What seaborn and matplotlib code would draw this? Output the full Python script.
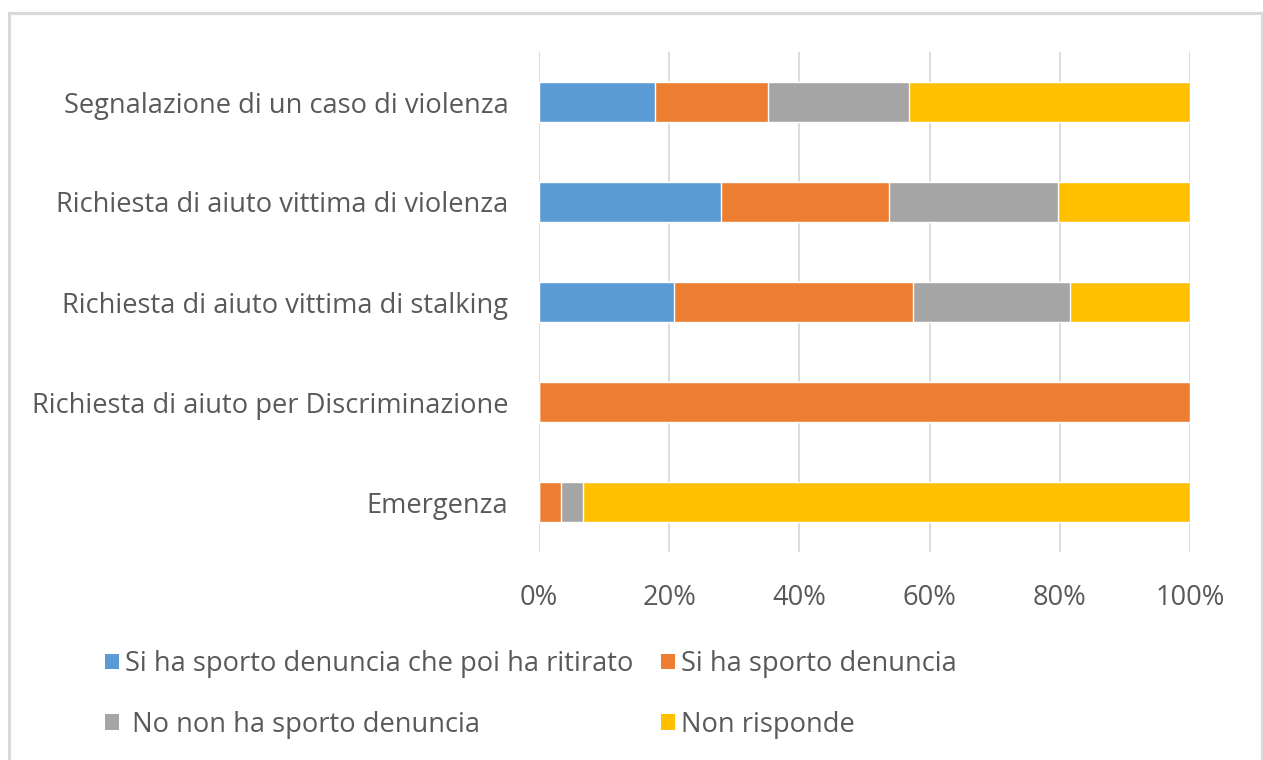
import matplotlib
matplotlib.use("Agg")
import matplotlib.pyplot as plt
from matplotlib.patches import Patch, Rectangle
import numpy as np
import pandas as pd
import seaborn as sns

categories = [
    "Segnalazione di un caso di violenza",
    "Richiesta di aiuto vittima di violenza",
    "Richiesta di aiuto vittima di stalking",
    "Richiesta di aiuto per Discriminazione",
    "Emergenza",
]
series_names = [
    "Si ha sporto denuncia che poi ha ritirato",
    "Si ha sporto denuncia",
    " No non ha sporto denuncia",
    "Non risponde",
]
ritirato = [17.8, 28.0, 20.8, 0.0, 0.0]
sporto = [17.4, 25.7, 36.7, 100.0, 3.4]
non_sporto = [21.7, 26.0, 24.0, 0.0, 3.3]
non_risponde = [43.1, 20.3, 18.5, 0.0, 93.3]
tick_labels = ["0%", "20%", "40%", "60%", "80%", "100%"]

colors = ["#5B9BD5", "#ED7D31", "#A5A5A5", "#FFC000"]
text_color = "#595959"
grid_color = "#D9D9D9"
font_size = 19.6

sns.set_theme(style="white")
plt.rcParams["font.family"] = ["Open Sans", "DejaVu Sans"]

values = np.array([ritirato, sporto, non_sporto, non_risponde])
cumulative = np.cumsum(values, axis=0)

fig = plt.figure(figsize=(12.63, 7.6), dpi=100)
ax = fig.add_axes([539 / 1263, 1 - 552 / 760, 651 / 1263, 500 / 760])

# Stacked bars: draw the cumulative totals from the outermost segment inwards
for i in range(len(series_names) - 1, -1, -1):
    df = pd.DataFrame({"categoria": categories, "valore": cumulative[i]})
    sns.barplot(data=df, x="valore", y="categoria", orient="h", color=colors[i],
                saturation=1, width=0.4, ax=ax, zorder=2)

ax.set_xlim(0, 100)
ax.set_ylim(len(categories) - 0.5, -0.5)
ticks = np.arange(0, 101, 20)
ax.set_xticks(ticks)
ax.set_xticklabels(tick_labels)
ax.xaxis.grid(True, color=grid_color, linewidth=1.3, zorder=0)
ax.set_axisbelow(True)
ax.yaxis.grid(False)
for s in ax.spines.values():
    s.set_visible(False)
ax.set_xlabel("")
ax.set_ylabel("")
ax.tick_params(axis="x", length=0, pad=23, labelsize=font_size, labelcolor=text_color)
ax.tick_params(axis="y", length=0, pad=22, labelsize=font_size, labelcolor=text_color)

# Legend laid out row by row: matplotlib fills columns first, so interleave
order = [0, 2, 1, 3]
handles = [Patch(facecolor=colors[k], edgecolor="none") for k in order]
labels = [series_names[k] for k in order]
fig.legend(handles, labels, ncol=2, loc="upper left",
           bbox_to_anchor=(105 / 1263, 1 - 650 / 760), frameon=False,
           fontsize=font_size, labelcolor=text_color, handlelength=0.5,
           handleheight=0.5, handletextpad=0.25, columnspacing=1.0,
           labelspacing=1.2, borderpad=0, borderaxespad=0)

# Light chart-area frame
fig.patches.append(Rectangle((9 / 1263, -0.05), (1262 - 9) / 1263, 1.05 - 13 / 760,
                             transform=fig.transFigure, fill=False,
                             edgecolor=grid_color, linewidth=2.2))

fig.savefig("out.png", dpi=100)
